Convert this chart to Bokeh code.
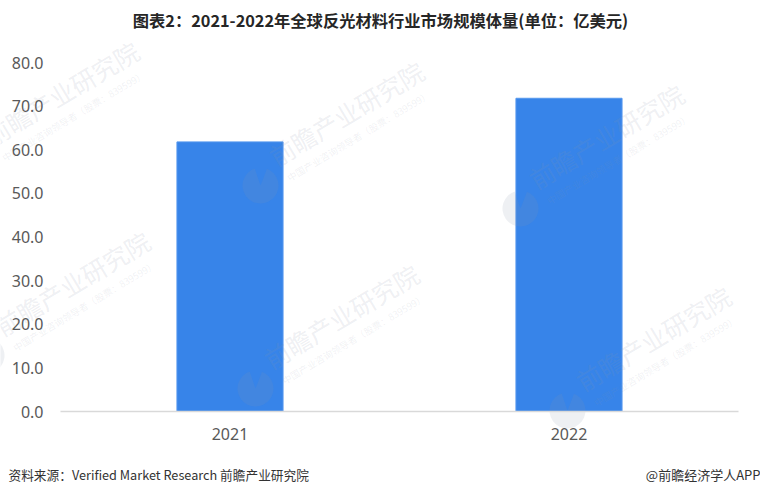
from bokeh.plotting import figure
from bokeh.models import Label, FixedTicker, NumeralTickFormatter, Range1d, LinearAxis
from bokeh.embed import file_html
from bokeh.resources import INLINE

years = [2021, 2022]
market_size = [61.8, 71.8]
y_ticks = [0, 10, 20, 30, 40, 50, 60, 70, 80]
title_text = "图表2：2021-2022年全球反光材料行业市场规模体量(单位：亿美元)"
source_text = "资料来源：Verified Market Research 前瞻产业研究院"
credit_text = "@前瞻经济学人APP"
wm_main = "前瞻产业研究院"
wm_sub = "中国产业咨询领导者（股票：839599）"

W, H = 760, 496
# plot box on the canvas (pixels): left, right, top, bottom
PL, PR, PT, PB = 60, 738, 62, 411
span = (PR - PL) / 2              # pixels per year
unit = (PB - PT) / 80             # pixels per value unit
x0 = 2021 - (PL + span / 2) / span
y0 = -(H - PB) / unit
x_px = lambda px: x0 + px / span
y_px = lambda py: y0 + (H - py) / unit

p = figure(width=W, height=H, x_range=Range1d(x0, x0 + W / span), y_range=Range1d(y0, y0 + H / unit),
           output_backend="svg", toolbar_location=None, x_axis_type=None, y_axis_type=None,
           min_border=0, min_border_left=0, min_border_right=0, min_border_top=0, min_border_bottom=0)
p.outline_line_color = None
p.background_fill_color = "white"
p.grid.visible = False
p.vbar(x=years, top=market_size, width=0.313, fill_color="#3784E9", line_color="#5597EE", line_width=1)

yax = LinearAxis(fixed_location=x_px(PL), bounds=(0, 80))
yax.ticker = FixedTicker(ticks=y_ticks)
yax.formatter = NumeralTickFormatter(format="0.0")
yax.axis_line_color = None
yax.major_tick_line_color = None
yax.minor_tick_line_color = None
yax.major_label_text_font = "Noto Sans"
yax.major_label_text_font_size = "16px"
yax.major_label_text_color = "#595959"
yax.major_label_standoff = 11
p.add_layout(yax, "left")

xax = LinearAxis(fixed_location=0, bounds=(x_px(PL), x_px(PR)))
xax.ticker = FixedTicker(ticks=years)
xax.formatter = NumeralTickFormatter(format="0")
xax.axis_line_color = "#D9D9D9"
xax.axis_line_width = 1.5
xax.major_tick_line_color = None
xax.minor_tick_line_color = None
xax.major_label_text_font = "Noto Sans"
xax.major_label_text_font_size = "16px"
xax.major_label_text_color = "#595959"
xax.major_label_standoff = 10
p.add_layout(xax, "below")

def scr(text, x, y, size, color, font, style="normal", align="left", baseline="middle", angle=0, alpha=1.0):
    p.add_layout(Label(x=x, y=H - y, x_units="screen", y_units="screen", text=text,
                       text_font=font, text_font_size=f"{size}px", text_color=color,
                       text_font_style=style, text_align=align, text_baseline=baseline,
                       angle=angle, angle_units="deg", text_alpha=alpha))

# watermark logo centres on the page
wm_logos = [(-25, 165), (260, 185), (520, 208), (-14, 355), (255, 388), (567, 410)]
for lx, ly in wm_logos:
    p.wedge(x=[x_px(lx)], y=[y_px(ly)], radius=18, radius_units="screen",
            start_angle=1.9, end_angle=1.2, direction="anticlock",
            fill_color="#8A94A8", fill_alpha=0.14, line_color=None)
    scr(wm_main, lx + 20, ly - 12, 25, "#8A94A8", "Noto Sans CJK SC", angle=31, alpha=0.15, baseline="bottom")
    scr(wm_sub, lx + 31, ly - 1, 9.5, "#8A94A8", "Noto Sans CJK SC", angle=31, alpha=0.13, baseline="bottom")

scr(title_text, 380, 19, 16.3, "#262626", "Noto Sans CJK SC", style="bold", align="center")
scr(source_text, 8, 474, 12.7, "#333333", "Noto Sans CJK SC")
scr(credit_text, 760, 474, 13, "#333333", "Noto Sans CJK SC", align="right")

open("out.html", "w").write(file_html(p, INLINE))
